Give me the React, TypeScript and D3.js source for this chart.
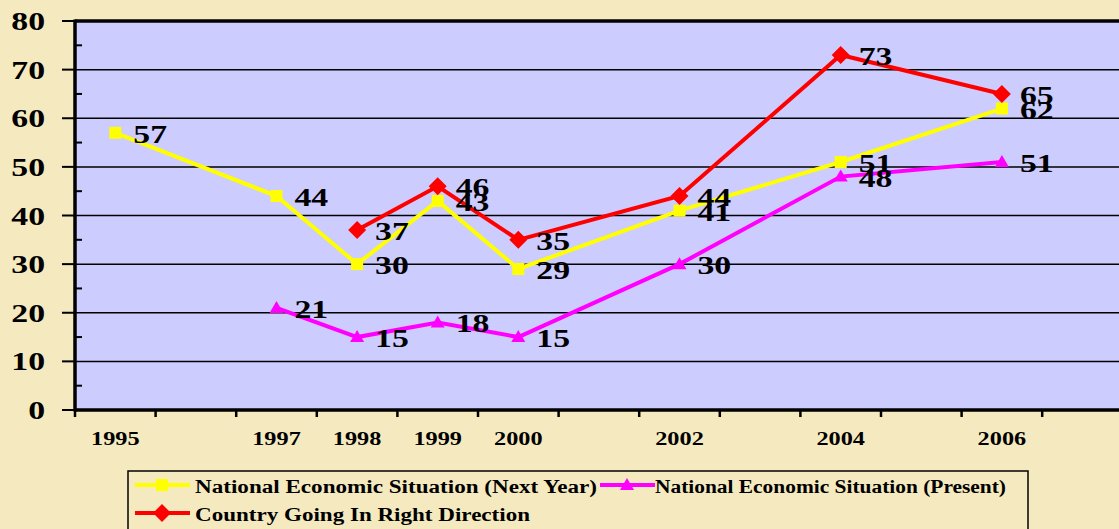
import React from 'react';
import * as d3 from 'd3';

// chart data
const categories = ['1995', '1996', '1997', '1998', '1999', '2000', '2001', '2002', '2003', '2004', '2005', '2006', '2007'];
const shownYears = ['1995', '1997', '1998', '1999', '2000', '2002', '2004', '2006'];
const yTicks = [0, 10, 20, 30, 40, 50, 60, 70, 80];

const nextYearYears = ['1995', '1997', '1998', '1999', '2000', '2002', '2004', '2006'];
const nextYearValues = [57, 44, 30, 43, 29, 41, 51, 62];

const presentYears = ['1997', '1998', '1999', '2000', '2002', '2004', '2006'];
const presentValues = [21, 15, 18, 15, 30, 48, 51];

const rightDirYears = ['1998', '1999', '2000', '2002', '2004', '2006'];
const rightDirValues = [37, 46, 35, 44, 73, 65];

const W = 1119;
const H = 529;
const BG = '#F5EABF';
const PLOT_BG = '#CCCCFF';
const FONT = '"Liberation Serif", "Times New Roman", serif';
const SX = 1.35; // the original picture is stretched sideways

const x = d3.scaleBand().domain(categories).range([75, 75 + 80.6 * categories.length]);
const y = d3.scaleLinear().domain([0, 80]).range([410, 21]);
const cx = (c: string) => (x(c) as number) + x.bandwidth() / 2;

const StretchText = ({ x, y, size, anchor = 'start', children }: any) => (
  <text
    transform={`translate(${x},${y}) scale(${SX},1)`}
    textAnchor={anchor}
    fontFamily={FONT}
    fontWeight="bold"
    fontSize={size}
    fill="#000"
  >
    {children}
  </text>
);

const Marker = ({ type, px, py, color }: any) => {
  if (type === 'square') return <rect x={px - 6} y={py - 6} width={12} height={12} fill={color} />;
  if (type === 'diamond')
    return <path d={`M${px},${py - 9}L${px + 9},${py}L${px},${py + 9}L${px - 9},${py}Z`} fill={color} />;
  return <path d={`M${px},${py - 7}L${px + 7},${py + 5}L${px - 7},${py + 5}Z`} fill={color} />;
};

const series = [
  { name: 'National Economic Situation (Next Year)', years: nextYearYears, values: nextYearValues, color: '#FFFF00', marker: 'square' },
  { name: 'National Economic Situation (Present)', years: presentYears, values: presentValues, color: '#FF00FF', marker: 'triangle' },
  { name: 'Country Going In Right Direction', years: rightDirYears, values: rightDirValues, color: '#FF0000', marker: 'diamond' },
];

export default function App() {
  const plotRight = W + 10;
  const line = d3
    .line<[string, number]>()
    .x((d) => cx(d[0]))
    .y((d) => y(d[1]));

  const minor = d3.range(5, 80, 10);
  const boundaries = d3.range(0, categories.length).map((i) => 75 + i * x.bandwidth());

  return (
    <svg width={W} height={H} style={{ position: 'absolute', left: 0, top: 0 }}>
      <rect x={0} y={0} width={W} height={H} fill={BG} />
      <rect x={75} y={y(80)} width={plotRight - 75} height={y(0) - y(80)} fill={PLOT_BG} />

      {/* gridlines */}
      {yTicks.slice(1, -1).map((t) => (
        <line key={t} x1={75} x2={plotRight} y1={y(t)} y2={y(t)} stroke="#000" strokeWidth={1.5} />
      ))}
      <line x1={75} x2={plotRight} y1={y(80)} y2={y(80)} stroke="#000" strokeWidth={3.5} />

      {/* y axis */}
      <line x1={75} x2={75} y1={y(80) - 1.5} y2={y(0) + 1.5} stroke="#000" strokeWidth={3.5} />
      {yTicks.map((t) => (
        <g key={t}>
          <line x1={62} x2={75} y1={y(t)} y2={y(t)} stroke="#000" strokeWidth={2} />
          <StretchText x={45} y={y(t) + 9} size={25} anchor="end">
            {t}
          </StretchText>
        </g>
      ))}
      {minor.map((t) => (
        <line key={t} x1={75} x2={82} y1={y(t)} y2={y(t)} stroke="#000" strokeWidth={2} />
      ))}

      {/* x axis */}
      <line x1={74} x2={plotRight} y1={y(0)} y2={y(0)} stroke="#000" strokeWidth={3.5} />
      {boundaries.map((b, i) => (
        <line key={i} x1={b} x2={b} y1={y(0)} y2={y(0) + 7} stroke="#000" strokeWidth={2.5} />
      ))}
      {shownYears.map((c) => (
        <StretchText key={c} x={cx(c)} y={445} size={18} anchor="middle">
          {c}
        </StretchText>
      ))}

      {/* series */}
      {series.map((s) => {
        const pts = s.years.map((yr, i) => [yr, s.values[i]] as [string, number]);
        return (
          <g key={s.name}>
            <path d={line(pts) as string} fill="none" stroke={s.color} strokeWidth={4} />
            {pts.map((p) => (
              <Marker key={p[0]} type={s.marker} px={cx(p[0])} py={y(p[1])} color={s.color} />
            ))}
          </g>
        );
      })}
      {series.map((s) =>
        s.years.map((yr, i) => (
          <StretchText key={s.name + yr} x={cx(yr) + 18} y={y(s.values[i]) + 10} size={25}>
            {s.values[i]}
          </StretchText>
        ))
      )}

      {/* legend */}
      <rect x={128} y={471} width={900} height={80} fill={BG} stroke="#000" strokeWidth={1.5} />
      {[
        { s: series[0], lx: 135, ly: 485, tx: 195, tw: 402, ty: 493 },
        { s: series[1], lx: 600, ly: 485, tx: 655, tw: 351, ty: 493 },
        { s: series[2], lx: 135, ly: 513, tx: 195, tw: 335, ty: 521 },
      ].map((l) => (
        <g key={l.s.name}>
          <line x1={l.lx} x2={l.lx + 55} y1={l.ly} y2={l.ly} stroke={l.s.color} strokeWidth={4} />
          <Marker type={l.s.marker} px={l.lx + 27} py={l.ly} color={l.s.color} />
          <text
            x={l.tx}
            y={l.ty}
            fontFamily={FONT}
            fontWeight="bold"
            fontSize={18}
            textLength={l.tw}
            lengthAdjust="spacingAndGlyphs"
          >
            {l.s.name}
          </text>
        </g>
      ))}
    </svg>
  );
}
